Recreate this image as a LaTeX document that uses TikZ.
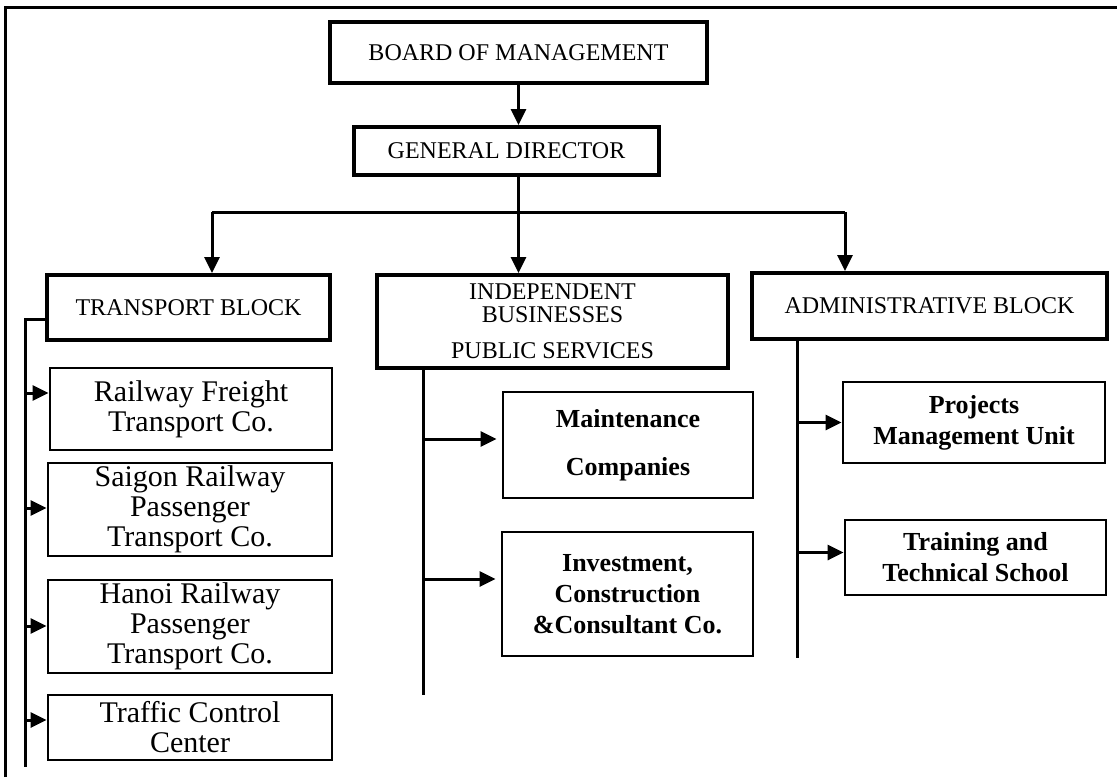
\documentclass[tikz,border=0pt]{standalone}
\usepackage{fontspec}
\setmainfont{Liberation Serif}
\usetikzlibrary{arrows.meta}
\begin{document}
\begin{tikzpicture}[x=1pt,y=-1pt,
  topbox/.style={draw, line width=4pt, inner sep=0pt, align=center, font=\fontsize{24}{23}\selectfont},
  subbox/.style={draw, line width=2.8pt, inner sep=0pt, align=center},
  regtext/.style={font=\fontsize{30}{30}\selectfont},
  boldtext/.style={font=\fontsize{26}{31}\selectfont\bfseries},
  conn/.style={line width=3pt},
  arr/.style={line width=3pt, -{Triangle[length=16pt,width=15pt]}}]
\useasboundingbox (0,0) rectangle (1117,777);
% frame
\draw[line width=3pt] (5,777) -- (5,7) -- (1117,7);
% top level
\node[topbox, minimum width=377pt, minimum height=61pt] (board) at (518.5,52.5) {BOARD OF MANAGEMENT};
\node[topbox, minimum width=305pt, minimum height=48pt] (gd) at (506.5,151) {GENERAL DIRECTOR};
\node[topbox, minimum width=283pt, minimum height=65pt] (tb) at (188.5,307.5) {TRANSPORT BLOCK};
\node[topbox, minimum width=351pt, minimum height=93pt] (ind) at (552.5,321.5) {INDEPENDENT\\BUSINESSES\\[13pt]PUBLIC SERVICES};
\node[topbox, minimum width=355pt, minimum height=66pt] (adm) at (929.5,306) {ADMINISTRATIVE BLOCK};
% transport children
\node[subbox, regtext, minimum width=282pt, minimum height=82pt] (rf) at (191,409) {Railway Freight\\Transport Co.};
\node[subbox, regtext, minimum width=284pt, minimum height=93pt] (sg) at (190,509.5) {Saigon Railway\\Passenger\\Transport Co.};
\node[subbox, regtext, minimum width=284pt, minimum height=93pt] (hn) at (190,626.5) {Hanoi Railway\\Passenger\\Transport Co.};
\node[subbox, regtext, minimum width=284pt, minimum height=65pt] (tc) at (190,727.5) {Traffic Control\\Center};
% independent children
\node[subbox, boldtext, minimum width=250pt, minimum height=106pt] (mt) at (628,445) {Maintenance\\[17pt]Companies};
\node[subbox, boldtext, minimum width=251pt, minimum height=124pt] (inv) at (627.5,594) {Investment,\\Construction\\\&Consultant Co.};
% administrative children
\node[subbox, boldtext, minimum width=262pt, minimum height=81pt] (pj) at (974,422.5) {Projects\\Management Unit};
\node[subbox, boldtext, minimum width=261pt, minimum height=75pt] (tr) at (975.5,557.5) {Training and\\Technical School};
% top connectors
\coordinate (tl) at (212,212);
\coordinate (trr) at (845,212);
\draw[arr] (board.south) -- (board.south |- gd.north);
\draw[arr] (board.south |- gd.south) -- (board.south |- ind.north);
\draw[conn] (tl) -- (trr);
\draw[arr] (tl) -- (tl |- tb.north);
\draw[arr] (trr) -- (trr |- adm.north);
% transport spine
\coordinate (tj) at (25,319);
\coordinate (tend) at (25,767);
\draw[conn] (tj -| tb.west) -- (tj) -- (tend);
\path ([yshift=16pt]rf.west) coordinate (rfa);
\path ([yshift=1.5pt]sg.west) coordinate (sga);
\path ([yshift=0.5pt]hn.west) coordinate (hna);
\path ([yshift=7.5pt]tc.west) coordinate (tca);
\draw[arr] (rfa -| tj) -- (rfa);
\draw[arr] (sga -| tj) -- (sga);
\draw[arr] (hna -| tj) -- (hna);
\draw[arr] (tca -| tj) -- (tca);
% independent spine
\coordinate (ms) at (423,368);
\coordinate (me) at (423,695);
\draw[conn] (ms) -- (me);
\path ([yshift=6pt]mt.west) coordinate (mta);
\path ([yshift=15pt]inv.west) coordinate (inva);
\draw[arr, shorten >=5pt] (mta -| ms) -- (mta);
\draw[arr, shorten >=5pt] (inva -| ms) -- (inva);
% administrative spine
\coordinate (rs) at (797,339);
\coordinate (re) at (797,658);
\draw[conn] (rs) -- (re);
\path ([yshift=5pt]tr.west) coordinate (tra);
\draw[arr] (pj.west -| rs) -- (pj.west);
\draw[arr] (tra -| rs) -- (tra);
\end{tikzpicture}
\end{document}
